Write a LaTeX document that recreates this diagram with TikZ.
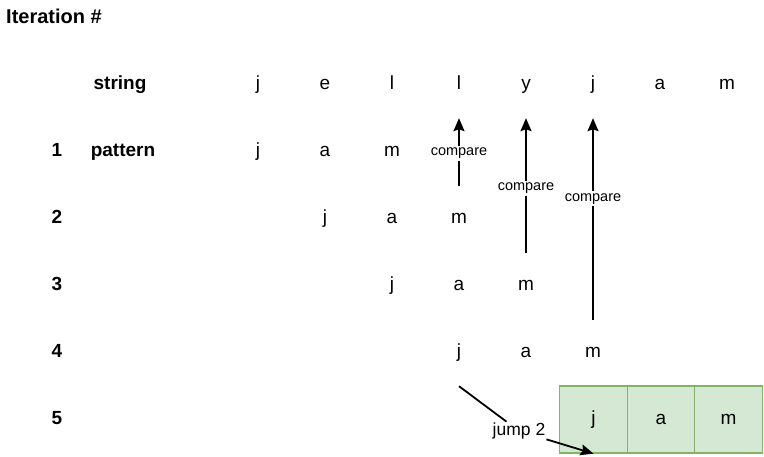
\documentclass[tikz,border=0pt]{standalone}
\usepackage{fontspec}
\setmainfont{Liberation Sans}
\usetikzlibrary{arrows.meta}
\definecolor{boxfill}{HTML}{D5E8D4}
\definecolor{boxline}{HTML}{82B366}
\tikzset{
  ltr/.style={font=\fontsize{19}{21}\selectfont, inner sep=0pt, minimum width=30pt, minimum height=66pt, text height=9.5pt, text depth=0pt},
  lbl/.style={font=\fontsize{19}{21}\selectfont\bfseries, inner sep=0pt, text height=9.5pt, text depth=0pt},
  cmp/.style={font=\fontsize{14.5}{16}\selectfont, fill=white, inner sep=2pt},
  cell/.style={draw=boxline, fill=boxfill, line width=1.3pt, minimum width=67.5pt, minimum height=67pt, inner sep=0pt, font=\fontsize{19}{21}\selectfont, text height=9.5pt, text depth=0pt},
  arr/.style={line width=1.8pt, -{Stealth[length=13pt,width=11pt,inset=2pt]}},
  ln/.style={line width=1.8pt}
}
\begin{document}
\begin{tikzpicture}[x=1pt,y=-1pt]
\useasboundingbox (0,0) rectangle (764,456);
% title
\node[font=\fontsize{20}{22}\selectfont\bfseries, anchor=base west, inner sep=0pt] (title) at (6,23) {Iteration \#};
% row labels
\node[lbl] (lstring) at (120,85) {string};
\node[lbl] (lpattern) at (123,152) {pattern};
\node[lbl] (n1) at (57,152) {1};
\node[lbl] (n2) at (57,219) {2};
\node[lbl] (n3) at (57,286) {3};
\node[lbl] (n4) at (57,353) {4};
\node[lbl] (n5) at (57,420) {5};
% string
\node[ltr] (s1) at (258,85) {j};
\node[ltr] (s2) at (325,85) {e};
\node[ltr] (s3) at (392,85) {l};
\node[ltr] (s4) at (459,85) {l};
\node[ltr] (s5) at (526,85) {y};
\node[ltr] (s6) at (593,85) {j};
\node[ltr] (s7) at (660,85) {a};
\node[ltr] (s8) at (727,85) {m};
% row 1
\node[ltr] (a1) at (258,152) {j};
\node[ltr] (a2) at (325,152) {a};
\node[ltr] (a3) at (392,152) {m};
% row 2
\node[ltr] (b1) at (325,219) {j};
\node[ltr] (b2) at (392,219) {a};
\node[ltr] (b3) at (459,219) {m};
% row 3
\node[ltr] (c1) at (392,286) {j};
\node[ltr] (c2) at (459,286) {a};
\node[ltr] (c3) at (526,286) {m};
% row 4
\node[ltr] (d1) at (459,353) {j};
\node[ltr] (d2) at (526,353) {a};
\node[ltr] (d3) at (593,353) {m};
% row 5 boxes
\node[cell] (e1) at (593.5,419.5) {j};
\node[cell] (e2) at (661,419.5) {a};
\node[cell] (e3) at (728.5,419.5) {m};
% compare arrows
\draw[arr] (b3.north) -- node[cmp, pos=0.48] {compare} (s4.south);
\draw[arr] (c3.north) -- node[cmp, pos=0.48] {compare} (s5.south);
\draw[arr] (d3.north) -- node[cmp, pos=0.6] {compare} (s6.south);
% jump
\node[font=\fontsize{17.5}{19}\selectfont, inner sep=1pt] (jump) at (519,431) {jump 2};
\draw[ln] (d1.south) -- (jump);
\draw[arr] (jump) -- (e1.south);
\end{tikzpicture}
\end{document}
